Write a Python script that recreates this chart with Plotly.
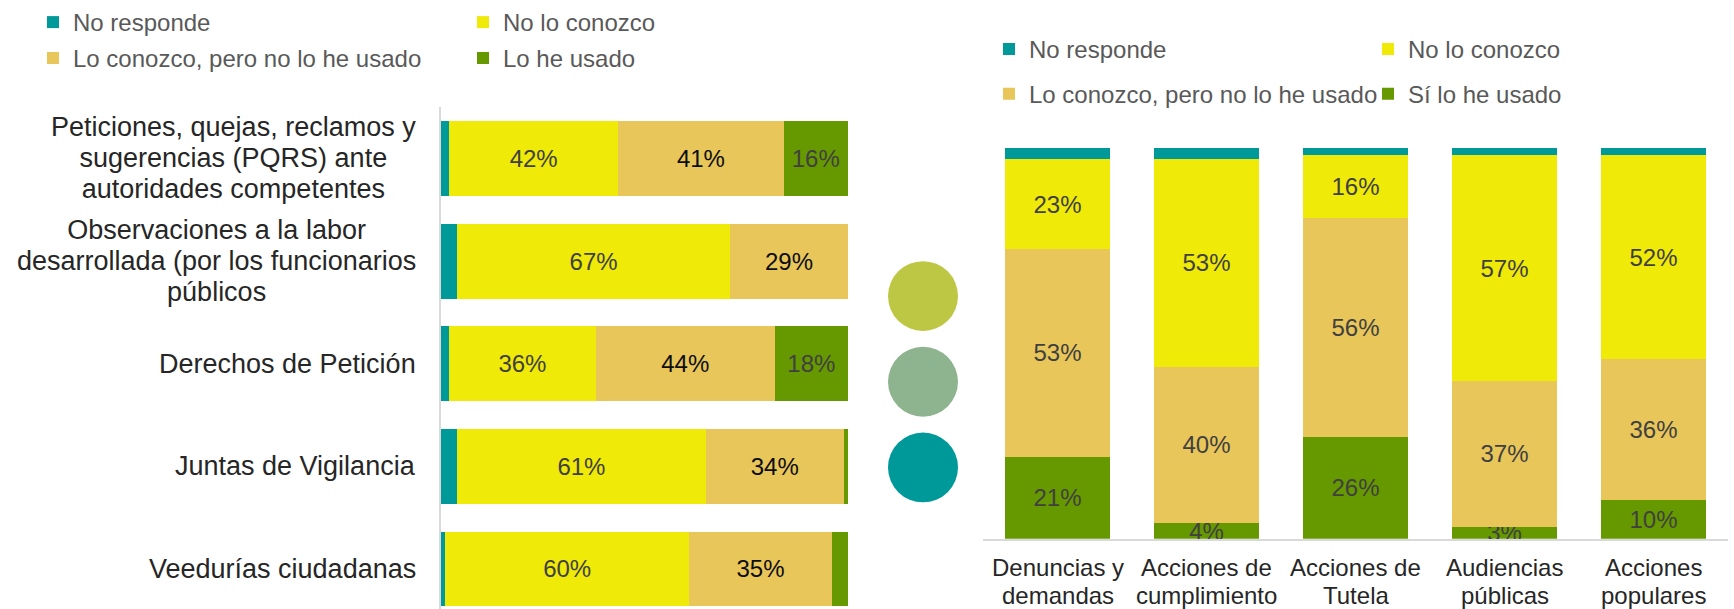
import plotly.graph_objects as go

W, H = 1734, 609
FONT = "Liberation Sans, Arial, sans-serif"

# ---------------- data: left chart (horizontal stacked bars) ----------------
left_categories = [
    "Peticiones, quejas, reclamos y<br>sugerencias (PQRS) ante<br>autoridades competentes",
    "Observaciones a la labor<br>desarrollada (por los funcionarios<br>públicos",
    "Derechos de Petición",
    "Juntas de Vigilancia",
    "Veedurías ciudadanas",
]
left_no_responde = [2, 4, 2, 4, 1]
left_no_conozco = [42, 67, 36, 61, 60]
left_conozco_no_usado = [41, 29, 44, 34, 35]
left_usado = [16, 0, 18, 1, 4]
left_names = ["No responde", "No lo conozco", "Lo conozco, pero no lo he usado", "Lo he usado"]

# ---------------- data: right chart (vertical stacked bars) ----------------
right_categories = [
    "Denuncias y<br>demandas",
    "Acciones de<br>cumplimiento",
    "Acciones de<br>Tutela",
    "Audiencias<br>públicas",
    "Acciones<br>populares",
]
right_no_responde = [3, 3, 2, 2, 2]
right_no_conozco = [23, 53, 16, 57, 52]
right_conozco_no_usado = [53, 40, 56, 37, 36]
right_si_usado = [21, 4, 26, 3, 10]
right_names = ["No responde", "No lo conozco", "Lo conozco, pero no lo he usado", "Sí lo he usado"]

# decorative circles colours
circle_colors = ["#BDC743", "#8DB48E", "#009999"]

# ---------------- styling ----------------
C_TEAL = "#009999"
C_YELLOW = "#EFEA08"
C_TAN = "#E8C65A"
C_GREEN = "#669900"


def px_x(x):
    return x / W


def px_y(y):
    return 1 - y / H


fig = go.Figure()

# left chart traces (left -> right)
left_series = [
    (left_names[0], left_no_responde, C_TEAL, False, "#404040"),
    (left_names[1], left_no_conozco, C_YELLOW, True, "#404040"),
    (left_names[2], left_conozco_no_usado, C_TAN, True, "#0D0D0D"),
    (left_names[3], left_usado, C_GREEN, True, "#404040"),
]
left_legend_pos = [(73, 20), (503, 20), (73, 56), (503, 56)]
for i, (name, vals, color, labelled, tcol) in enumerate(left_series):
    texts = [f"{v}%" if (labelled and v >= 5) else "" for v in vals]
    lg = "legend" if i == 0 else f"legend{i+1}"
    fig.add_trace(go.Bar(
        name=name, y=left_categories, x=vals, orientation="h",
        marker=dict(color=color, line=dict(width=0)),
        width=0.73,
        text=texts, textposition="inside", insidetextanchor="middle",
        textangle=0, constraintext="none", cliponaxis=False,
        textfont=dict(family=FONT, size=24, color=tcol),
        xaxis="x", yaxis="y", legend=lg, hoverinfo="x+y+name",
    ))

# right chart traces (bottom -> top)
right_series = [
    (right_names[3], right_si_usado, C_GREEN, True),
    (right_names[2], right_conozco_no_usado, C_TAN, True),
    (right_names[1], right_no_conozco, C_YELLOW, True),
    (right_names[0], right_no_responde, C_TEAL, False),
]
right_legend_pos = {right_names[0]: (1029, 47), right_names[1]: (1408, 47),
                    right_names[2]: (1029, 92), right_names[3]: (1408, 92)}
for j, (name, vals, color, labelled) in enumerate(right_series):
    texts = [f"{v}%" if labelled else "" for v in vals]
    lg = f"legend{5+j}"
    fig.add_trace(go.Bar(
        name=name, x=right_categories, y=vals,
        marker=dict(color=color, line=dict(width=0)),
        width=0.71,
        text=texts, textposition="inside", insidetextanchor="middle",
        textangle=0, constraintext="none", cliponaxis=False,
        textfont=dict(family=FONT, size=24, color="#404040"),
        xaxis="x2", yaxis="y2", legend=lg, hoverinfo="x+y+name",
    ))

# legends (one per series so they can be laid out as in the original 2x2 grid)
legend_layout = {}
for i, pos in enumerate(left_legend_pos):
    key = "legend" if i == 0 else f"legend{i+1}"
    legend_layout[key] = dict(
        x=px_x(pos[0] - 40), y=px_y(pos[1] - 22), xanchor="left", yanchor="top",
        bgcolor="rgba(0,0,0,0)", borderwidth=0,
        font=dict(family=FONT, size=24, color="#595959"),
    )
for j, (name, _, _, _) in enumerate(right_series):
    key = f"legend{5+j}"
    pos = right_legend_pos[name]
    legend_layout[key] = dict(
        x=px_x(pos[0] - 40), y=px_y(pos[1] - 22), xanchor="left", yanchor="top",
        bgcolor="rgba(0,0,0,0)", borderwidth=0,
        font=dict(family=FONT, size=24, color="#595959"),
    )

annotations = []
# left category labels (centred lines, right edge near the axis); the base font
# size sets the (tight) line spacing, the span sets the glyph size
for cat in left_categories:
    txt = "<br>".join(f"<span style='font-size:27px'>{ln}</span>" for ln in cat.split("<br>"))
    annotations.append(dict(
        x=px_x(418), xref="paper", xanchor="right",
        y=cat, yref="y", yanchor="middle",
        text=txt, showarrow=False, align="center",
        font=dict(family=FONT, size=24, color="#262626"),
    ))
# right category labels (one annotation per line for tight line spacing)
line_ys = [567, 595]
for cat in right_categories:
    for k, line in enumerate(cat.split("<br>")):
        annotations.append(dict(
            x=cat, xref="x2", xanchor="center",
            y=px_y(line_ys[k]), yref="paper", yanchor="middle",
            text=line, showarrow=False,
            font=dict(family=FONT, size=24, color="#262626"),
        ))

# decorative circles
shapes = []
circle_centers = [295, 381, 467]
for cy, col in zip(circle_centers, circle_colors):
    shapes.append(dict(
        type="circle", xref="paper", yref="paper",
        x0=px_x(923 - 35), x1=px_x(923 + 35),
        y0=px_y(cy + 35), y1=px_y(cy - 35),
        fillcolor=col, line=dict(width=0), layer="above",
    ))

fig.update_layout(
    width=W, height=H,
    margin=dict(l=0, r=0, t=0, b=0),
    paper_bgcolor="white", plot_bgcolor="white",
    barmode="stack", barnorm="percent",
    font=dict(family=FONT, color="#404040"),
    showlegend=True,
    xaxis=dict(domain=[px_x(441), px_x(848)], range=[0, 100], visible=False,
               anchor="y", fixedrange=True),
    yaxis=dict(domain=[0, px_y(105)], type="category", range=[4.39, -0.505],
               showline=True, linecolor="#D9D9D9", linewidth=1.5,
               showticklabels=False, ticks="", showgrid=False, zeroline=False,
               anchor="x", fixedrange=True),
    xaxis2=dict(domain=[px_x(983), px_x(1728)], type="category", range=[-0.5, 4.5],
                showline=True, linecolor="#D9D9D9", linewidth=1.5,
                showticklabels=False, ticks="", showgrid=False, zeroline=False,
                anchor="y2", fixedrange=True),
    yaxis2=dict(domain=[px_y(538.6), px_y(146)], range=[0, 100], visible=False,
                anchor="x2", fixedrange=True),
    annotations=annotations,
    shapes=shapes,
    **legend_layout,
)

fig.write_html(
    "out.html",
    config={"displayModeBar": False},
    post_script="document.body.style.margin='0';document.body.style.overflow='hidden';",
)
